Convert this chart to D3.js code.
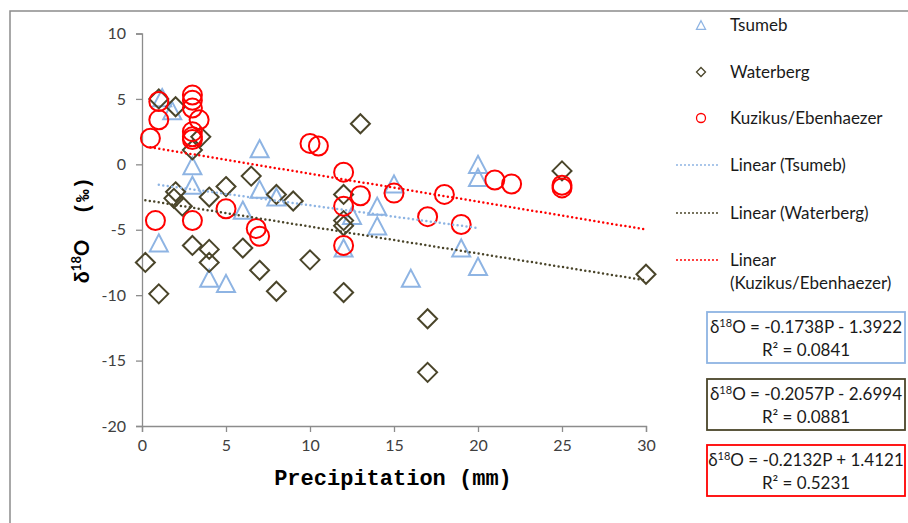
<!DOCTYPE html>
<meta charset="utf-8">
<title>d18O vs precipitation</title>
<style>

body {
  margin: 0;
  background: #fff;
  font: 16px Lato, sans-serif;
}

</style>
<body>
</body>
<script src="https://cdn.jsdelivr.net/npm/d3@7/dist/d3.min.js"></script>
<script>

// data: [precipitation mm, d18O permil]
var tsumeb = [
  [1, -6.0], [1.2, 5.1], [1.8, 4.1], [3, -0.1], [3, -1.6], [4, -8.7],
  [5, -9.1], [6, -3.5], [7, 1.2], [7, -1.9], [8, -2.5], [12, -6.4],
  [12.5, -3.9], [14, -3.2], [14, -4.7], [15, -1.5], [16, -8.7],
  [19, -6.4], [20, 0.0], [20, -1.0], [20, -7.8]
];
var waterberg = [
  [0.2, -7.5], [1, 5.0], [1, -9.9], [2, 4.4], [2, -2.1], [1.9, -2.6],
  [2.4, -3.2], [3, 1.1], [3.5, 2.1], [3, -6.2], [4, -2.5], [4, -6.5],
  [4, -7.5], [5, -1.7], [6, -6.4], [6.5, -0.9], [7, -8.1], [8, -2.3],
  [8, -9.7], [9, -2.8], [10, -7.3], [12, -2.3], [12, -4.3], [12, -4.7],
  [12, -9.8], [13, 3.1], [17, -11.8], [17, -15.9], [25, -0.5], [30, -8.4]
];
var kuzikus = [
  [0.5, 2.0], [0.8, -4.3], [1, 4.8], [1, 3.4], [3, 5.3], [3, 4.9],
  [3, 4.3], [3.4, 3.4], [3, 2.5], [3, 2.1], [3, 1.9], [3, -4.3],
  [5, -3.4], [6.8, -4.9], [7, -5.5], [10, 1.6], [10.5, 1.4], [12, -0.6],
  [12, -3.2], [12, -6.2], [13, -2.4], [15, -2.2], [17, -4.0], [18, -2.3],
  [19, -4.6], [21, -1.2], [22, -1.5], [25, -1.6], [25, -1.8]
];

var seriesNames = ["Tsumeb", "Waterberg", "Kuzikus/Ebenhaezer"];
var slopes = [-0.1738, -0.2057, -0.2132];
var intercepts = [-1.3922, -2.6994, 1.4121];
var r2 = ["0.0841", "0.0881", "0.5231"];
var trendSpan = [[1, 20], [0.2, 30], [0.5, 30]];

var xTicks = [0, 5, 10, 15, 20, 25, 30];
var yTicks = [-20, -15, -10, -5, 0, 5, 10];

var colors = ["#8eb4e3", "#4a452a", "#ff0000"];

var width = 908,
    height = 523;

var svg = d3.select("body").append("svg")
    .attr("width", width)
    .attr("height", height);

// chart frame (runs off the right and bottom)
svg.append("rect")
    .attr("x", 10).attr("y", 11)
    .attr("width", 920).attr("height", 540)
    .attr("fill", "none")
    .attr("stroke", "#8c8c8c")
    .attr("stroke-width", 1.5);

var x = d3.scaleLinear().domain([0, 30]).range([142, 646]);
var y = d3.scaleLinear().domain([-20, 10]).range([426, 33.5]);

// axes, plain hyphen for negatives like the original
var xAxis = svg.append("g")
    .attr("transform", "translate(0," + y(-20) + ")")
    .call(d3.axisBottom(x).tickValues(xTicks).tickFormat(String).tickSize(6).tickPadding(8));
var yAxis = svg.append("g")
    .attr("transform", "translate(" + x(0) + ",0)")
    .call(d3.axisLeft(y).tickValues(yTicks).tickFormat(String).tickSize(6).tickPadding(10));

[xAxis, yAxis].forEach(function(a) {
  a.select(".domain").attr("stroke", "#8c8c8c").attr("stroke-width", 1.3);
  a.selectAll(".tick line").attr("stroke", "#8c8c8c").attr("stroke-width", 1.3);
  a.selectAll(".tick text")
      .attr("fill", "#404040")
      .style("font", "16px Lato, sans-serif");
});

// marker shapes, centred on their bounding box like Excel does
function triangle(s) {
  var h = s * 0.95, w = s;
  return "M0," + (-h / 2) + "L" + (w / 2) + "," + (h / 2) + "L" + (-w / 2) + "," + (h / 2) + "Z";
}
function diamond(s) {
  var r = s / 2;
  return "M0," + (-r) + "L" + r + ",0L0," + r + "L" + (-r) + ",0Z";
}
function circle(s) {
  var r = s / 2;
  return "M" + r + ",0A" + r + "," + r + " 0 1,1 " + (-r) + ",0A" + r + "," + r + " 0 1,1 " + r + ",0Z";
}
var shapes = [triangle, diamond, circle];
var markerSize = [18, 19, 19];
var markerStroke = [2, 2, 2];

var allSeries = [tsumeb, waterberg, kuzikus];

allSeries.forEach(function(data, i) {
  svg.append("g").selectAll("path")
      .data(data)
    .enter().append("path")
      .attr("transform", function(d) { return "translate(" + x(d[0]) + "," + y(d[1]) + ")"; })
      .attr("d", shapes[i](markerSize[i]))
      .attr("fill", "none")
      .attr("stroke", colors[i])
      .attr("stroke-width", markerStroke[i]);
});

// trend lines
allSeries.forEach(function(data, i) {
  var pts = trendSpan[i].map(function(p) { return [p, slopes[i] * p + intercepts[i]]; });
  svg.append("line")
      .attr("x1", x(pts[0][0])).attr("y1", y(pts[0][1]))
      .attr("x2", x(pts[1][0])).attr("y2", y(pts[1][1]))
      .attr("stroke", colors[i])
      .attr("stroke-width", 2.5)
      .attr("stroke-dasharray", "0,4.5")
      .attr("stroke-linecap", "round");
});

// axis titles
svg.append("text")
    .attr("x", 393).attr("y", 485)
    .attr("text-anchor", "middle")
    .style("font", "bold 22px 'Liberation Mono', monospace")
    .attr("fill", "#000")
    .text("Precipitation (mm)");

var yt = svg.append("text")
    .attr("transform", "translate(89,230) rotate(-90)")
    .attr("text-anchor", "middle")
    .attr("fill", "#000");
yt.append("tspan").style("font", "bold 20px 'Liberation Mono', monospace").text("δ");
yt.append("tspan").style("font", "bold 13px Lato, sans-serif").attr("dy", -8).text("18");
yt.append("tspan").style("font", "bold 20px Lato, sans-serif").attr("dy", 8).text("O");
yt.append("tspan").style("font", "bold 21px 'Liberation Mono', monospace").attr("xml:space", "preserve").text("  (‰)");

// legend
var legY = [25, 72, 118];
seriesNames.forEach(function(n, i) {
  svg.append("path")
      .attr("transform", "translate(701," + legY[i] + ")")
      .attr("d", shapes[i](9))
      .attr("fill", "none")
      .attr("stroke", colors[i])
      .attr("stroke-width", 1.3);
  svg.append("text")
      .attr("x", 730).attr("y", legY[i]).attr("dy", "0.35em")
      .style("font", "17px Lato, sans-serif")
      .attr("fill", "#1a1a1a")
      .text(n);
});

var linY = [165, 213, 260];
var linLabels = [["Linear (Tsumeb)"], ["Linear (Waterberg)"], ["Linear", "(Kuzikus/Ebenhaezer)"]];
linLabels.forEach(function(lines, i) {
  svg.append("line")
      .attr("x1", 677).attr("x2", 721)
      .attr("y1", linY[i]).attr("y2", linY[i])
      .attr("stroke", colors[i])
      .attr("stroke-width", 2)
      .attr("stroke-dasharray", "0,4")
      .attr("stroke-linecap", "round");
  lines.forEach(function(t, j) {
    svg.append("text")
        .attr("x", 730).attr("y", linY[i] + j * 23).attr("dy", "0.35em")
        .style("font", "17px Lato, sans-serif")
        .attr("fill", "#1a1a1a")
        .text(t);
  });
});

// equation boxes
var boxY = [312, 379, 445];
slopes.forEach(function(s, i) {
  var g = svg.append("g").attr("transform", "translate(707," + boxY[i] + ")");
  g.append("rect")
      .attr("width", 198).attr("height", 51)
      .attr("fill", "#fff")
      .attr("stroke", colors[i])
      .attr("stroke-width", 1.8);
  var sign = intercepts[i] < 0 ? " - " : " + ";
  var t1 = g.append("text")
      .attr("x", 99).attr("y", 15).attr("dy", "0.35em")
      .attr("text-anchor", "middle")
      .style("font", "17px Lato, sans-serif")
      .attr("fill", "#1a1a1a");
  t1.append("tspan").text("δ");
  t1.append("tspan").style("font-size", "11px").attr("dy", -6).text("18");
  t1.append("tspan").attr("dy", 6).text("O = " + s.toFixed(4) + "P" + sign + Math.abs(intercepts[i]).toFixed(4));
  g.append("text")
      .attr("x", 99).attr("y", 38).attr("dy", "0.35em")
      .attr("text-anchor", "middle")
      .style("font", "17px Lato, sans-serif")
      .attr("fill", "#1a1a1a")
      .text("R² = " + r2[i]);
});

</script>
